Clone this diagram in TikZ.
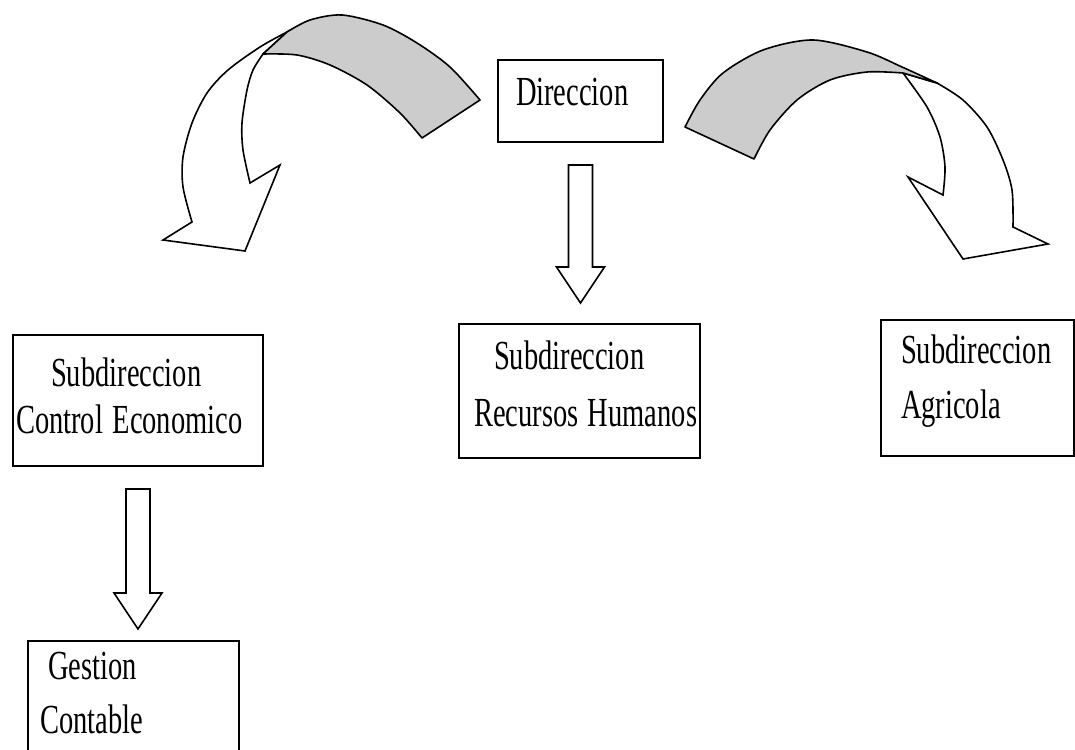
\documentclass[tikz,border=0pt]{standalone}
\usepackage{fontspec}
\usepackage{graphicx}
\setmainfont{Liberation Serif}
\usetikzlibrary{calc}

\newcommand{\tall}[1]{\scalebox{1}[1.45]{#1}}

\tikzset{
  unit/.style={draw, line width=2pt, inner sep=0pt, anchor=north west, align=left,
    font=\fontsize{28.5}{45}\selectfont},
  blockarr/.style={draw, fill=white, line width=1.6pt, line join=miter},
  band/.style={draw, fill=black!20, line width=1.6pt, line join=round},
}

\begin{document}
\begin{tikzpicture}[x=1pt, y=-1pt]
        \useasboundingbox (0,0) rectangle (1075,749);
        \node[unit, text width=165pt, text height=46pt, text depth=36pt] (dir) at (497,59)
            {\hspace*{18pt}\tall{Direccion}}; %Top unit
        \node[unit, text width=250pt, text height=51pt, text depth=80pt] (ce) at (12,334)
            {\hspace*{38pt}\tall{Subdireccion}\\[2pt]\hspace*{3pt}\tall{Control Economico}};
        \node[unit, text width=241pt, text height=45pt, text depth=89pt] (rh) at (458,323)
            {\hspace*{35pt}\tall{Subdireccion}\\[12pt]\hspace*{15pt}\tall{Recursos Humanos}};
        \node[unit, text width=193pt, text height=43pt, text depth=93pt] (ag) at (880,319)
            {\hspace*{20pt}\tall{Subdireccion}\\[10pt]\hspace*{20pt}\tall{Agricola}};
        \node[unit, text width=211pt, text height=38pt, text depth=112pt] (gc) at (27,640)
            {\hspace*{20pt}\tall{Gestion}\\[9pt]\hspace*{12pt}\tall{Contable}}; %Cut by the page

        %Straight block arrows
        \foreach \src/\dst/\gap in {dir/rh/20, ce/gc/11}
            \draw[blockarr] ($(\src.south)+(-12,22)$)
                -- ($(\src.south |- \dst.north)+(-12,-\gap-36)$) -- ++(-12,0)
                -- ($(\src.south |- \dst.north)+(0,-\gap)$)
                -- ($(\src.south |- \dst.north)+(24,-\gap-36)$) -- ++(-12,0)
                -- ($(\src.south)+(12,22)$) -- cycle;

        %Curved arrow to the left
        \draw[blockarr]
            plot[smooth] coordinates {(287,32) (260,47) (228,70) (207,93) (192,123) (183,157) (183,187) (192,222)}
            -- (163,240) -- (245,251) -- (280,165)
            -- plot[smooth] coordinates {(250,183) (243,150) (242,123) (247,90) (253,70) (263,54)}
            -- cycle;
        \draw[band]
            plot[smooth] coordinates {(287,32) (310,20) (342,15) (383,25) (417,43) (450,67) (480,100)}
            -- plot[smooth] coordinates {(422,138) (400,113) (367,85) (330,65) (297,55) (263,54)}
            -- cycle;

        %Curved arrow to the right
        \draw[blockarr]
            plot[smooth] coordinates {(937,83) (963,100) (987,127) (1003,160) (1012,190) (1013,227)}
            -- (1048,244) -- (963,259) -- (908,177)
            -- plot[smooth] coordinates {(943,195) (945,167) (940,137) (927,107) (903,73)}
            -- cycle;
        \draw[band]
            plot[smooth] coordinates {(685,127) (700,100) (723,73) (763,50) (813,40) (867,52) (902,67) (937,83)}
            -- plot[smooth] coordinates {(903,73) (867,72) (830,80) (797,100) (770,130) (754,159)}
            -- cycle;
\end{tikzpicture}
\end{document}
